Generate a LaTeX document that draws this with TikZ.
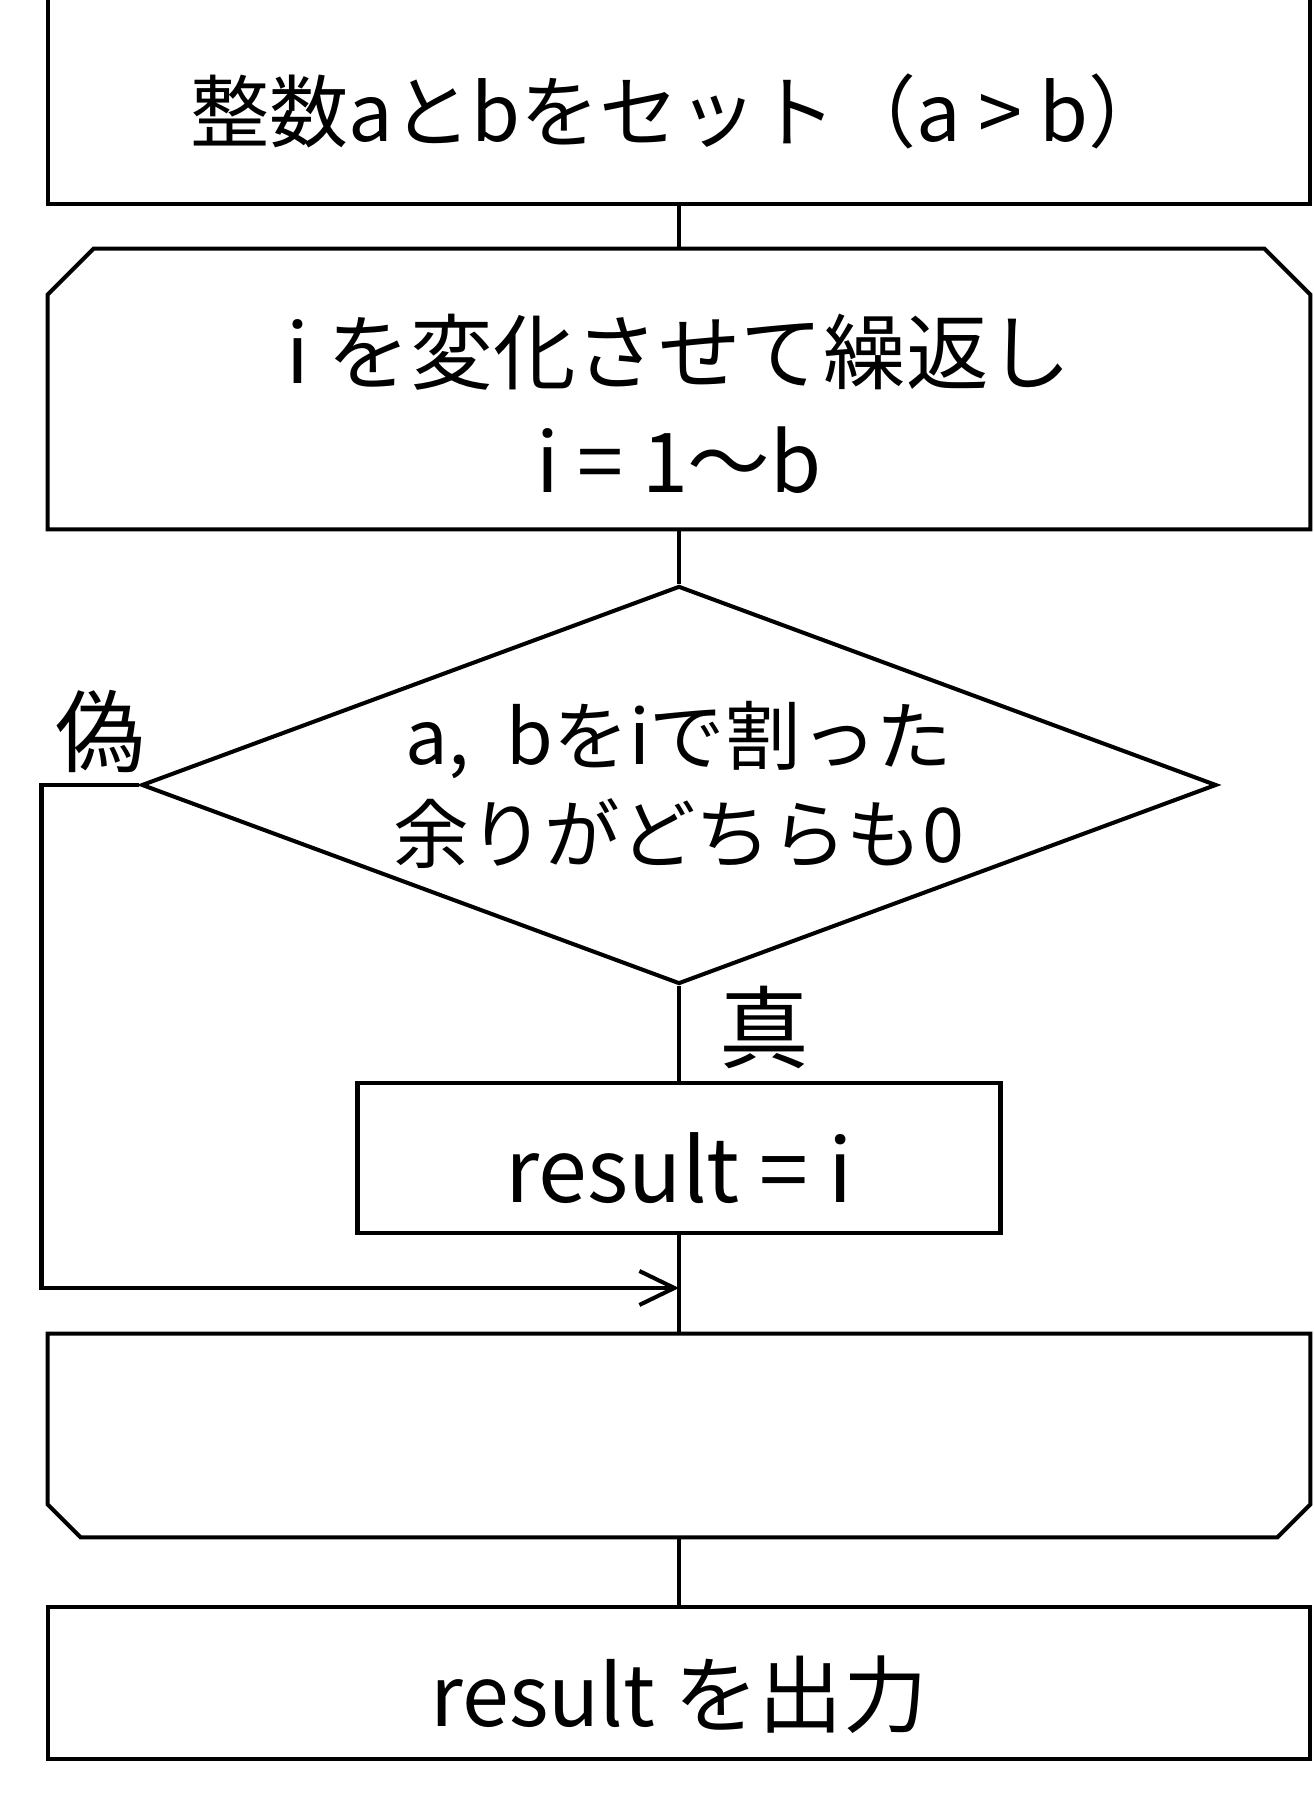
\documentclass[tikz,border=0pt]{standalone}
\usepackage{fontspec}
\setmainfont{Noto Sans CJK JP}
\usetikzlibrary{shapes.geometric,arrows.meta}

\newcommand{\dropby}[2]{\raisebox{-#1}[\height][\depth]{#2}}

\begin{document}
\begin{tikzpicture}[
    procbox/.style={draw, line width=2.3pt, inner sep=0pt},
    loopbox/.style={inner sep=0pt, minimum width=25.24cm},
    decision/.style={draw, diamond, aspect=2.7, line width=2.3pt, inner sep=0pt,
        minimum width=21.5cm, minimum height=7.96cm},
    flow/.style={line width=2.3pt},
    lbl/.style={inner sep=0pt, font=\fontsize{51}{51}\selectfont}
]
\useasboundingbox (0,0) rectangle (26.26,35.88);

% 入力
\node[procbox, minimum width=25.24cm, minimum height=4.28cm, font=\fontsize{45}{50}\selectfont]
    (set) at (13.58,33.94) {\dropby{0.28cm}{整数aとbをセット（a > b）}};

% ループ端（開始）
\node[loopbox, minimum height=5.6cm, font=\fontsize{47}{62}\selectfont] (loop) at (13.58,28.1)
    {\dropby{0.55cm}{\begin{tabular}{@{}c@{}}i を変化させて繰返し\\ i = 1〜b\end{tabular}}};
\draw[flow] ([yshift=-0.92cm]loop.north west) -- ([xshift=0.92cm]loop.north west)
    -- ([xshift=-0.92cm]loop.north east) -- ([yshift=-0.92cm]loop.north east)
    -- (loop.south east) -- (loop.south west) -- cycle;

% 判定
\node[decision, font=\fontsize{43}{56}\selectfont, align=center] (cond) at (13.58,20.18)
    {a,\enspace bをiで割った\\余りがどちらも0};
\node[lbl] (nolbl) at (2.0,21.24) {偽};
\node[lbl] (yeslbl) at (15.28,15.34) {真};

% 処理
\node[procbox, minimum width=12.86cm, minimum height=3.0cm, font=\fontsize{50}{50}\selectfont]
    (calc) at (13.58,12.72) {\dropby{0.2cm}{result = i}};
\coordinate (merge) at (13.58,10.12);

% ループ端（終了）
\node[loopbox, minimum height=4.06cm] (loopend) at (13.58,7.17) {};
\draw[flow] (loopend.north west) -- (loopend.north east)
    -- ([yshift=0.66cm]loopend.south east) -- ([xshift=-0.66cm]loopend.south east)
    -- ([xshift=0.66cm]loopend.south west) -- ([yshift=0.66cm]loopend.south west) -- cycle;

% 出力
\node[procbox, minimum width=25.24cm, minimum height=3.04cm, font=\fontsize{48}{50}\selectfont]
    (out) at (13.58,2.22) {\dropby{0.24cm}{result を出力}};

% 接続線
\draw[flow] (set) -- (loop);
\draw[flow] (loop) -- (cond);
\draw[flow] (cond) -- (calc);
\draw[flow] (calc) -- (loopend);
\draw[flow] (loopend) -- (out);
\draw[flow, -{Straight Barb[length=0.7cm, width=0.68cm]}] (cond.west) -- ++(-1.96,0) |- (merge);
\end{tikzpicture}
\end{document}
